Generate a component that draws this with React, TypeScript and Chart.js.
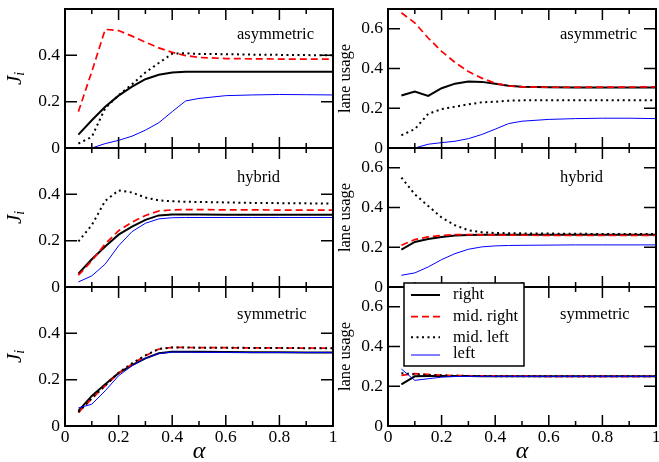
import React, { useEffect, useRef } from 'react';
import { Chart, registerables } from 'chart.js';

Chart.register(...registerables);

// ---------- data ----------
const alpha = [0.05, 0.1, 0.15, 0.2, 0.25, 0.3, 0.35, 0.4, 0.45, 0.5, 0.6, 0.7, 0.8, 0.9, 1.0];
const xMajorTicks = [0, 0.2, 0.4, 0.6, 0.8, 1];
const xMinorTicks = [0.1, 0.3, 0.5, 0.7, 0.9];
const fluxTicks = [0, 0.2, 0.4];
const laneTicks = [0, 0.2, 0.4, 0.6];
const fluxAxisMax = 0.6;
const laneAxisMax = 0.7;
const seriesNames = ['right', 'mid. right', 'mid. left', 'left'];
const scenarioNames = ['asymmetric', 'hybrid', 'symmetric'];

// J_i, asymmetric
const asymFluxRight = [0.058, 0.12, 0.178, 0.226, 0.265, 0.297, 0.316, 0.326, 0.329, 0.329, 0.329, 0.329, 0.329, 0.329, 0.329];
const asymFluxMidRight = [0.157, 0.33, 0.512, 0.507, 0.483, 0.457, 0.432, 0.413, 0.399, 0.391, 0.386, 0.385, 0.384, 0.384, 0.384];
const asymFluxMidLeft = [0.019, 0.048, 0.172, 0.228, 0.275, 0.326, 0.367, 0.407, 0.409, 0.406, 0.405, 0.403, 0.402, 0.401, 0.4];
const asymFluxLeft = [null, 0, 0.019, 0.033, 0.051, 0.077, 0.109, 0.157, 0.203, 0.214, 0.226, 0.229, 0.231, 0.23, 0.229];

// lane usage, asymmetric
const asymLaneRight = [0.264, 0.284, 0.262, 0.301, 0.324, 0.335, 0.333, 0.323, 0.314, 0.309, 0.306, 0.305, 0.305, 0.305, 0.305];
const asymLaneMidRight = [0.681, 0.63, 0.554, 0.487, 0.431, 0.385, 0.352, 0.326, 0.313, 0.308, 0.306, 0.306, 0.307, 0.307, 0.308];
const asymLaneMidLeft = [0.064, 0.095, 0.172, 0.196, 0.208, 0.22, 0.23, 0.233, 0.238, 0.24, 0.24, 0.24, 0.24, 0.24, 0.24];
const asymLaneLeft = [null, 0, 0.019, 0.027, 0.034, 0.047, 0.068, 0.095, 0.123, 0.135, 0.144, 0.148, 0.15, 0.15, 0.148];

// J_i, hybrid
const hybFluxRight = [0.058, 0.12, 0.175, 0.226, 0.261, 0.29, 0.309, 0.313, 0.313, 0.313, 0.312, 0.312, 0.312, 0.312, 0.312];
const hybFluxMidRight = [0.051, 0.113, 0.186, 0.243, 0.28, 0.309, 0.328, 0.333, 0.334, 0.334, 0.333, 0.333, 0.332, 0.332, 0.332];
const hybFluxMidLeft = [0.197, 0.267, 0.372, 0.417, 0.408, 0.386, 0.374, 0.37, 0.368, 0.367, 0.365, 0.363, 0.362, 0.361, 0.36];
const hybFluxLeft = [0.022, 0.048, 0.099, 0.178, 0.239, 0.275, 0.294, 0.299, 0.3, 0.3, 0.3, 0.3, 0.3, 0.3, 0.3];

// lane usage, hybrid
const hybLaneRight = [0.188, 0.227, 0.242, 0.252, 0.259, 0.262, 0.263, 0.263, 0.263, 0.263, 0.263, 0.263, 0.263, 0.263, 0.263];
const hybLaneMidRight = [0.21, 0.239, 0.252, 0.26, 0.264, 0.264, 0.263, 0.262, 0.261, 0.261, 0.26, 0.26, 0.26, 0.26, 0.26];
const hybLaneMidLeft = [0.551, 0.467, 0.408, 0.35, 0.311, 0.286, 0.276, 0.272, 0.271, 0.27, 0.269, 0.268, 0.267, 0.267, 0.267];
const hybLaneLeft = [0.059, 0.071, 0.101, 0.138, 0.168, 0.19, 0.202, 0.207, 0.209, 0.21, 0.211, 0.212, 0.212, 0.212, 0.212];

// J_i, symmetric
const symFluxRight = [0.065, 0.13, 0.18, 0.228, 0.263, 0.292, 0.314, 0.321, 0.321, 0.32, 0.319, 0.318, 0.318, 0.317, 0.317];
const symFluxMidRight = [0.058, 0.118, 0.173, 0.228, 0.267, 0.303, 0.332, 0.339, 0.339, 0.338, 0.338, 0.337, 0.337, 0.336, 0.336];
const symFluxMidLeft = [0.06, 0.12, 0.175, 0.23, 0.27, 0.305, 0.333, 0.339, 0.339, 0.338, 0.338, 0.337, 0.337, 0.336, 0.336];
const symFluxLeft = [0.078, 0.094, 0.152, 0.217, 0.26, 0.292, 0.313, 0.319, 0.319, 0.318, 0.318, 0.317, 0.317, 0.317, 0.317];

// lane usage, symmetric
const symLaneRight = [0.21, 0.25, 0.252, 0.252, 0.252, 0.252, 0.251, 0.251, 0.251, 0.25, 0.25, 0.25, 0.25, 0.25, 0.25];
const symLaneMidRight = [0.255, 0.264, 0.26, 0.256, 0.254, 0.253, 0.252, 0.252, 0.251, 0.251, 0.25, 0.25, 0.25, 0.25, 0.25];
const symLaneMidLeft = [0.266, 0.26, 0.257, 0.255, 0.253, 0.252, 0.252, 0.251, 0.251, 0.251, 0.25, 0.25, 0.25, 0.25, 0.25];
const symLaneLeft = [0.287, 0.23, 0.238, 0.246, 0.249, 0.25, 0.25, 0.25, 0.25, 0.25, 0.25, 0.25, 0.25, 0.25, 0.25];

// ---------- styling / layout ----------
const W = 659;
const H = 462;
const SERIF = "'Liberation Serif', 'Times New Roman', serif";
const colLeft = [65, 388];
const colRight = [333, 656];
const rowTop = [9, 148, 287];
const rowBottom = [148, 287, 426];
const labelBaseline = [29.5, 33.5, 31.5];
const styles = [
  { color: '#000000', width: 2, dash: [] as number[] },
  { color: '#ff0000', width: 1.7, dash: [7, 4] },
  { color: '#000000', width: 2, dash: [2, 3.5] },
  { color: '#0000ff', width: 1, dash: [] as number[] },
];

type Panel = {
  row: number;
  col: number;
  series: (number | null)[][];
  yMax: number;
  yTicks: number[];
  name: string;
};

const panels: Panel[] = [
  { row: 0, col: 0, series: [asymFluxRight, asymFluxMidRight, asymFluxMidLeft, asymFluxLeft], yMax: fluxAxisMax, yTicks: fluxTicks, name: scenarioNames[0] },
  { row: 0, col: 1, series: [asymLaneRight, asymLaneMidRight, asymLaneMidLeft, asymLaneLeft], yMax: laneAxisMax, yTicks: laneTicks, name: scenarioNames[0] },
  { row: 1, col: 0, series: [hybFluxRight, hybFluxMidRight, hybFluxMidLeft, hybFluxLeft], yMax: fluxAxisMax, yTicks: fluxTicks, name: scenarioNames[1] },
  { row: 1, col: 1, series: [hybLaneRight, hybLaneMidRight, hybLaneMidLeft, hybLaneLeft], yMax: laneAxisMax, yTicks: laneTicks, name: scenarioNames[1] },
  { row: 2, col: 0, series: [symFluxRight, symFluxMidRight, symFluxMidLeft, symFluxLeft], yMax: fluxAxisMax, yTicks: fluxTicks, name: scenarioNames[2] },
  { row: 2, col: 1, series: [symLaneRight, symLaneMidRight, symLaneMidLeft, symLaneLeft], yMax: laneAxisMax, yTicks: laneTicks, name: scenarioNames[2] },
];

function makeDecor(p: Panel) {
  return {
    id: 'decor',
    afterDraw(chart: any) {
      const ctx: CanvasRenderingContext2D = chart.ctx;
      const { left, right, top, bottom } = chart.chartArea;
      const xs = chart.scales.x;
      const ys = chart.scales.y;
      ctx.save();
      ctx.setLineDash([]);
      ctx.strokeStyle = '#000';
      ctx.lineWidth = 1.5;
      ctx.beginPath();
      xMajorTicks.forEach((v) => {
        if (v <= 0 || v >= 1) return;
        const px = xs.getPixelForValue(v);
        ctx.moveTo(px, bottom); ctx.lineTo(px, bottom - 11);
        ctx.moveTo(px, top); ctx.lineTo(px, top + 11);
      });
      xMinorTicks.forEach((v) => {
        const px = xs.getPixelForValue(v);
        ctx.moveTo(px, bottom); ctx.lineTo(px, bottom - 5);
        ctx.moveTo(px, top); ctx.lineTo(px, top + 5);
      });
      p.yTicks.forEach((v) => {
        if (v <= 0 || v >= p.yMax) return;
        const py = ys.getPixelForValue(v);
        ctx.moveTo(left, py); ctx.lineTo(left + 12, py);
        ctx.moveTo(right, py); ctx.lineTo(right - 12, py);
      });
      ctx.stroke();
      ctx.lineWidth = 2;
      ctx.strokeRect(left, top, right - left, bottom - top);

      // scenario label
      ctx.fillStyle = '#000';
      ctx.font = `16.5px ${SERIF}`;
      ctx.textAlign = 'left';
      ctx.textBaseline = 'alphabetic';
      ctx.fillText(p.name, left + 172, top + labelBaseline[p.row]);

      // y axis title
      const cy = (top + bottom) / 2;
      ctx.save();
      if (p.col === 0) {
        ctx.translate(left - 44, cy);
        ctx.rotate(-Math.PI / 2);
        ctx.font = `italic 21px ${SERIF}`;
        const wJ = ctx.measureText('J').width;
        ctx.font = `italic 14px ${SERIF}`;
        const wi = ctx.measureText('i').width;
        const x0 = -(wJ + wi) / 2;
        ctx.font = `italic 21px ${SERIF}`;
        ctx.fillText('J', x0, 0);
        ctx.font = `italic 14px ${SERIF}`;
        ctx.fillText('i', x0 + wJ, 3);
      } else {
        ctx.translate(left - 38, cy);
        ctx.rotate(-Math.PI / 2);
        ctx.font = `16.5px ${SERIF}`;
        ctx.textAlign = 'center';
        ctx.fillText('lane usage', 0, 0);
      }
      ctx.restore();

      // x axis title
      if (p.row === 2) {
        ctx.font = `italic 24px ${SERIF}`;
        ctx.textAlign = 'center';
        ctx.fillText('\u03b1', (left + right) / 2, 458);
      }

      // legend
      if (p.row === 2 && p.col === 1) {
        const bx = left + 16;
        const by = top - 4;
        ctx.fillStyle = '#fff';
        ctx.fillRect(bx, by, 120, 83);
        ctx.lineWidth = 1.5;
        ctx.strokeStyle = '#000';
        ctx.strokeRect(bx, by, 120, 83);
        const lineY = [8, 29.7, 50.3, 68];
        const textY = [12.3, 33.7, 54.7, 71.3];
        seriesNames.forEach((nm, i) => {
          const s = styles[i];
          ctx.strokeStyle = s.color;
          ctx.lineWidth = s.width;
          ctx.setLineDash(s.dash);
          ctx.beginPath();
          ctx.moveTo(left + 23, top + lineY[i]);
          ctx.lineTo(left + 52, top + lineY[i]);
          ctx.stroke();
          ctx.setLineDash([]);
          ctx.fillStyle = '#000';
          ctx.font = `16.5px ${SERIF}`;
          ctx.textAlign = 'left';
          ctx.fillText(nm, left + 65, top + textY[i]);
        });
      }
      ctx.restore();
    },
  };
}

function PanelChart({ p }: { p: Panel }) {
  const ref = useRef<HTMLCanvasElement>(null);
  useEffect(() => {
    if (!ref.current) return;
    const showX = p.row === 2;
    const xH = showX ? 30 : 0;
    const yW = 60;
    const chart = new Chart(ref.current, {
      type: 'line',
      data: {
        datasets: p.series.map((arr, i) => ({
          label: seriesNames[i],
          data: alpha.map((a, j) => ({ x: a, y: arr[j] })),
          borderColor: styles[i].color,
          borderWidth: styles[i].width,
          borderDash: styles[i].dash,
          borderCapStyle: 'butt',
          pointRadius: 0,
          tension: 0,
          fill: false,
          spanGaps: false,
          order: 3 - i,
        })) as any,
      },
      options: {
        animation: false,
        responsive: false,
        events: [],
        layout: {
          padding: {
            left: colLeft[p.col] - yW,
            right: W - colRight[p.col],
            top: rowTop[p.row],
            bottom: H - rowBottom[p.row] - xH,
          },
        },
        plugins: { legend: { display: false }, tooltip: { enabled: false } },
        scales: {
          x: {
            type: 'linear',
            min: 0,
            max: 1,
            grid: { display: false, drawTicks: false },
            border: { display: false },
            ticks: {
              display: showX,
              color: '#000',
              font: { family: SERIF, size: 17.5 },
              padding: 1,
              maxRotation: 0,
              autoSkip: false,
              callback: (v: any) => String(v),
            },
            afterBuildTicks: (s: any) => { s.ticks = xMajorTicks.map((v) => ({ value: v })); },
            afterFit: (s: any) => { s.height = xH; s.paddingLeft = 0; s.paddingRight = 0; },
          },
          y: {
            type: 'linear',
            min: 0,
            max: p.yMax,
            grid: { display: false, drawTicks: false },
            border: { display: false },
            ticks: {
              color: '#000',
              font: { family: SERIF, size: 17.5 },
              padding: 5,
              callback: (v: any) => String(v),
            },
            afterBuildTicks: (s: any) => { s.ticks = p.yTicks.map((v) => ({ value: v })); },
            afterFit: (s: any) => { s.width = yW; s.paddingTop = 0; s.paddingBottom = 0; },
          },
        },
      } as any,
      plugins: [makeDecor(p)],
    });
    return () => chart.destroy();
  }, [p]);
  return (
    <canvas
      ref={ref}
      width={W}
      height={H}
      style={{ position: 'absolute', left: 0, top: 0, width: W, height: H }}
    />
  );
}

export default function App() {
  return (
    <div style={{ position: 'absolute', left: 0, top: 0, width: W, height: H, background: '#fff' }}>
      {panels.map((p, i) => (
        <PanelChart key={i} p={p} />
      ))}
    </div>
  );
}
